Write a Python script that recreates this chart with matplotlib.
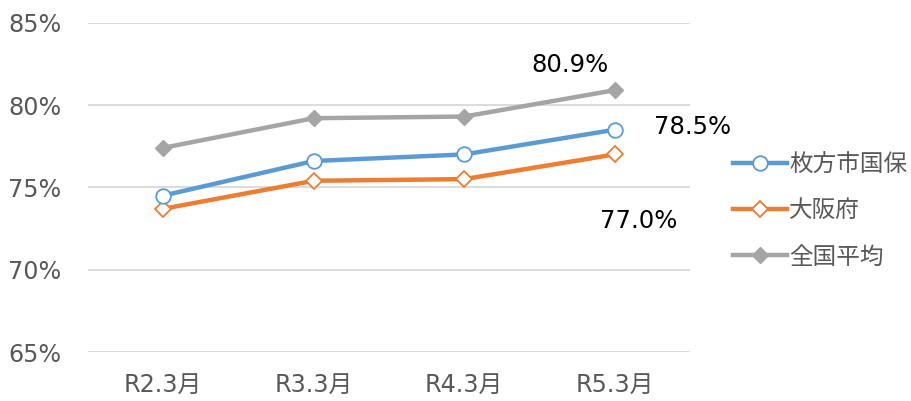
import matplotlib
matplotlib.use("Agg")
import matplotlib.pyplot as plt
from matplotlib.ticker import FuncFormatter

plt.rcParams['font.family'] = ['DejaVu Sans', 'Noto Sans CJK JP']

categories = ["R2.3月", "R3.3月", "R4.3月", "R5.3月"]
hirakata = [74.5, 76.6, 77.0, 78.5]
osaka = [73.7, 75.4, 75.5, 77.0]
national = [77.4, 79.2, 79.3, 80.9]
series_names = ["枚方市国保", "大阪府", "全国平均"]
yticks = [65, 70, 75, 80, 85]

fig = plt.figure(figsize=(9.12, 4.01), dpi=100)
ax = fig.add_axes([88/912, 1-352/401, (690-88)/912, (352-22.7)/401])

x = list(range(len(categories)))
ax.plot(x, hirakata, color='#5B9BD5', lw=3.2, marker='o', ms=10.5,
        mfc='white', mec='#5B9BD5', mew=1.3, label=series_names[0], zorder=4)
ax.plot(x, osaka, color='#ED7D31', lw=3.2, marker='D', ms=8,
        mfc='white', mec='#ED7D31', mew=1.3, label=series_names[1], zorder=3)
ax.plot(x, national, color='#A5A5A5', lw=3.2, marker='D', ms=8,
        mfc='#A5A5A5', mec='#A5A5A5', label=series_names[2], zorder=2)

ax.set_xlim(-0.5, 3.5)
ax.set_ylim(65, 85)
ax.set_yticks(yticks)
ax.yaxis.set_major_formatter(FuncFormatter(lambda v, p: f"{v:.0f}%"))
ax.set_xticks(x)
ax.set_xticklabels(categories)
ax.grid(axis='y', color='#D9D9D9', lw=1.3)
ax.set_axisbelow(True)
for s in ax.spines.values():
    s.set_visible(False)
ax.tick_params(axis='both', length=0, labelsize=17.2, colors='#595959')
ax.tick_params(axis='y', pad=19)
ax.tick_params(axis='x', pad=15)

fs = 17.5
ax.annotate(f"{national[3]:.1f}%", (3, national[3]), xytext=(-32, 18),
            textcoords='offset points', ha='center', va='center', fontsize=fs, color='black')
ax.annotate(f"{hirakata[3]:.1f}%", (3, hirakata[3]), xytext=(56, 2),
            textcoords='offset points', ha='center', va='center', fontsize=fs, color='black')
ax.annotate(f"{osaka[3]:.1f}%", (3, osaka[3]), xytext=(17, -48),
            textcoords='offset points', ha='center', va='center', fontsize=fs, color='black')

leg = ax.legend(loc='center left', bbox_to_anchor=(1.055, 0.43), frameon=False,
                fontsize=17, handlelength=2.3, handletextpad=0.1, labelspacing=0.94,
                borderaxespad=0)
for t in leg.get_texts():
    t.set_color('#595959')

fig.savefig("out.png", dpi=100)
